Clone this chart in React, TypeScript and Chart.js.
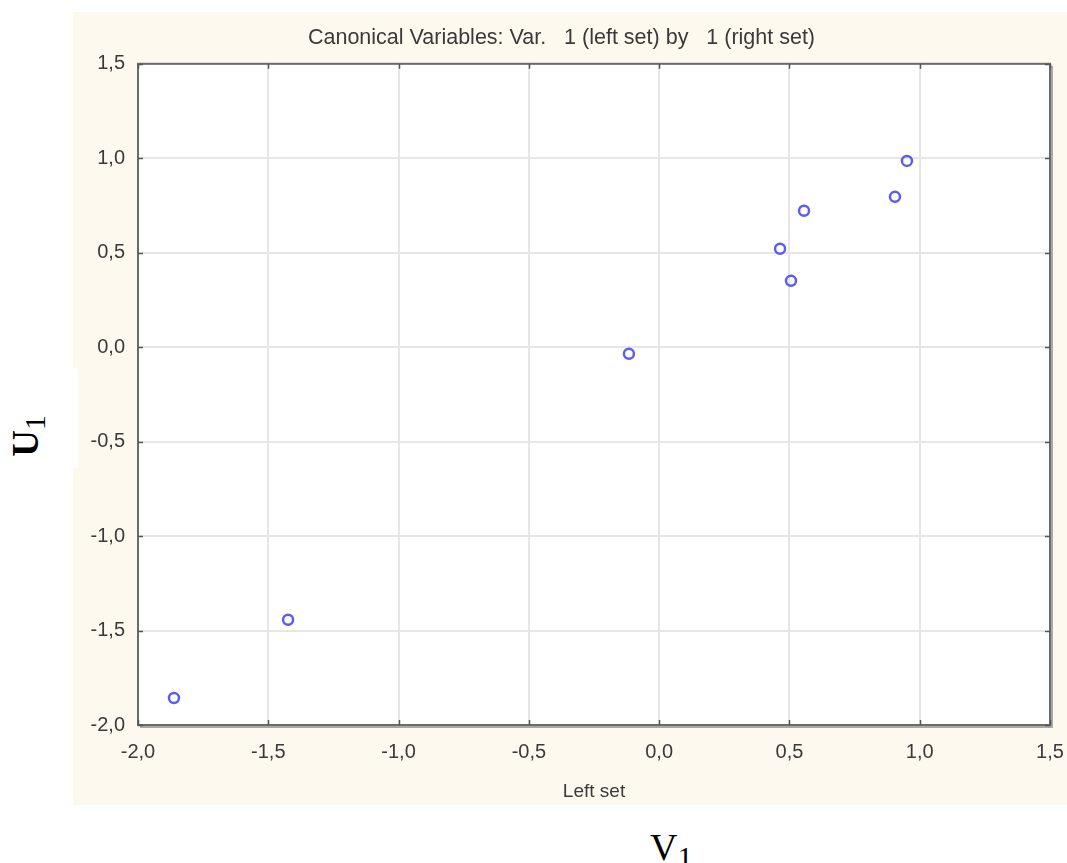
import React, { useEffect, useRef } from "react";
import { Chart, registerables } from "chart.js";

Chart.register(...registerables);

// Canonical variable scores (left set V1, right set U1)
const LEFT_SET_V1: number[] = [-1.862, -1.424, -0.116, 0.464, 0.506, 0.556, 0.905, 0.951];
const RIGHT_SET_U1: number[] = [-1.857, -1.443, -0.035, 0.521, 0.351, 0.722, 0.796, 0.986];

const X_TICK_VALUES: number[] = [-2, -1.5, -1, -0.5, 0, 0.5, 1, 1.5];
const X_TICK_LABELS: string[] = ["-2,0", "-1,5", "-1,0", "-0,5", "0,0", "0,5", "1,0", "1,5"];
const Y_TICK_VALUES: number[] = [-2, -1.5, -1, -0.5, 0, 0.5, 1, 1.5];
const Y_TICK_LABELS: string[] = ["-2,0", "-1,5", "-1,0", "-0,5", "0,0", "0,5", "1,0", "1,5"];

const TITLE = "Canonical Variables: Var.   1 (left set) by   1 (right set)";
const X_AXIS_TITLE = "Left set";

const SANS = "'Liberation Sans', Arial, sans-serif";
const SERIF = "'Liberation Serif', 'Times New Roman', serif";

function labelFor(values: number[], labels: string[], v: number): string {
  const i = values.findIndex((t) => Math.abs(t - v) < 1e-6);
  return i >= 0 ? labels[i] : "";
}

const framePlugin = {
  id: "statFrame",
  beforeDraw(chart: any) {
    const { ctx, chartArea } = chart;
    const { left, top, right, bottom } = chartArea;
    ctx.save();
    ctx.fillStyle = "#ffffff";
    ctx.fillRect(left, top, right - left, bottom - top);
    ctx.restore();
  },
  afterDraw(chart: any) {
    const { ctx, chartArea } = chart;
    const { left, top, right, bottom } = chartArea;
    const xs = chart.scales.x;
    const ys = chart.scales.y;
    ctx.save();
    // shadow on right / bottom
    ctx.strokeStyle = "#a9a9a9";
    ctx.lineWidth = 2;
    ctx.beginPath();
    ctx.moveTo(right + 2, top + 2);
    ctx.lineTo(right + 2, bottom + 2);
    ctx.lineTo(left + 2, bottom + 2);
    ctx.stroke();
    // frame
    ctx.strokeStyle = "#6b6b6b";
    ctx.lineWidth = 2;
    ctx.strokeRect(left, top, right - left, bottom - top);
    // inner ticks
    ctx.strokeStyle = "#555555";
    ctx.lineWidth = 1.5;
    ctx.beginPath();
    for (const v of X_TICK_VALUES) {
      const px = Math.round(xs.getPixelForValue(v)) + 0.5;
      ctx.moveTo(px, bottom);
      ctx.lineTo(px, bottom - 5);
      ctx.moveTo(px, top);
      ctx.lineTo(px, top + 5);
    }
    for (const v of Y_TICK_VALUES) {
      const py = Math.round(ys.getPixelForValue(v)) + 0.5;
      ctx.moveTo(left, py);
      ctx.lineTo(left + 5, py);
      ctx.moveTo(right, py);
      ctx.lineTo(right - 5, py);
    }
    ctx.stroke();
    ctx.restore();
  },
};

export default function App() {
  const canvasRef = useRef<HTMLCanvasElement | null>(null);

  useEffect(() => {
    if (!canvasRef.current) return;
    const points = LEFT_SET_V1.map((x, i) => ({ x, y: RIGHT_SET_U1[i] }));
    const chart = new Chart(canvasRef.current, {
      type: "scatter",
      data: {
        datasets: [
          {
            label: "U1 vs V1",
            data: points,
            pointStyle: "circle",
            pointRadius: 5,
            pointBorderWidth: 2.5,
            pointBackgroundColor: "rgba(0,0,0,0)",
            pointBorderColor: "#5c5cf2",
            showLine: false,
          },
        ],
      },
      options: {
        animation: false,
        responsive: false,
        maintainAspectRatio: false,
        layout: { padding: { left: 0, right: 17, top: 0, bottom: 0 } },
        plugins: {
          legend: { display: false },
          tooltip: { enabled: false },
          title: {
            display: true,
            text: TITLE,
            color: "#3a3a3a",
            font: { family: SANS, size: 21.5, weight: "normal" },
            padding: { top: 13, bottom: 13 },
          },
        },
        scales: {
          x: {
            type: "linear",
            min: -2,
            max: 1.5,
            afterFit(scale: any) {
              scale.height = 80;
              scale.paddingLeft = 0;
              scale.paddingRight = 0;
            },
            afterBuildTicks(scale: any) {
              scale.ticks = X_TICK_VALUES.map((value) => ({ value }));
            },
            border: { display: false },
            grid: { color: "#e6e6e6", lineWidth: 2, drawTicks: false },
            ticks: {
              padding: 15,
              color: "#3a3a3a",
              font: { family: SANS, size: 20 },
              maxRotation: 0,
              callback: (v: any) => labelFor(X_TICK_VALUES, X_TICK_LABELS, Number(v)),
            },
            title: {
              display: true,
              text: X_AXIS_TITLE,
              color: "#3a3a3a",
              font: { family: SANS, size: 19 },
              padding: { top: 0, bottom: 2 },
            },
          },
          y: {
            type: "linear",
            min: -2,
            max: 1.5,
            afterFit(scale: any) {
              scale.width = 65;
              scale.paddingTop = 0;
              scale.paddingBottom = 0;
            },
            afterBuildTicks(scale: any) {
              scale.ticks = Y_TICK_VALUES.map((value) => ({ value }));
            },
            border: { display: false },
            grid: { color: "#e6e6e6", lineWidth: 2, drawTicks: false },
            ticks: {
              padding: 13,
              color: "#3a3a3a",
              font: { family: SANS, size: 20 },
              callback: (v: any) => labelFor(Y_TICK_VALUES, Y_TICK_LABELS, Number(v)),
            },
          },
        },
      },
      plugins: [framePlugin],
    });
    return () => chart.destroy();
  }, []);

  return (
    <div
      style={{
        position: "absolute",
        left: 0,
        top: 0,
        width: 1067,
        height: 863,
        background: "#ffffff",
        overflow: "hidden",
      }}
    >
      <div
        style={{
          position: "absolute",
          left: 73,
          top: 12,
          width: 994,
          height: 793,
          background: "#fdf9ef",
        }}
      />
      <div
        style={{
          position: "absolute",
          left: 73,
          top: 368,
          width: 5,
          height: 100,
          background: "#ffffff",
        }}
      />
      <canvas
        ref={canvasRef}
        width={994}
        height={793}
        style={{ position: "absolute", left: 73, top: 12, width: 994, height: 793 }}
      />
      <div
        style={{
          position: "absolute",
          left: 25,
          top: 436,
          transform: "translate(-50%, -50%) rotate(-90deg)",
          fontFamily: SERIF,
          fontSize: 37,
          fontWeight: "bold",
          lineHeight: 1,
          whiteSpace: "nowrap",
          color: "#000",
        }}
      >
        U
        <span style={{ fontSize: "0.8em", position: "relative", top: "0.22em", fontWeight: "normal" }}>1</span>
      </div>
      <div
        style={{
          position: "absolute",
          left: 650,
          top: 828,
          fontFamily: SERIF,
          fontSize: 38,
          lineHeight: 1,
          whiteSpace: "nowrap",
          color: "#000",
        }}
      >
        V
        <span style={{ fontSize: "0.8em", position: "relative", top: "0.22em" }}>1</span>
      </div>
    </div>
  );
}
